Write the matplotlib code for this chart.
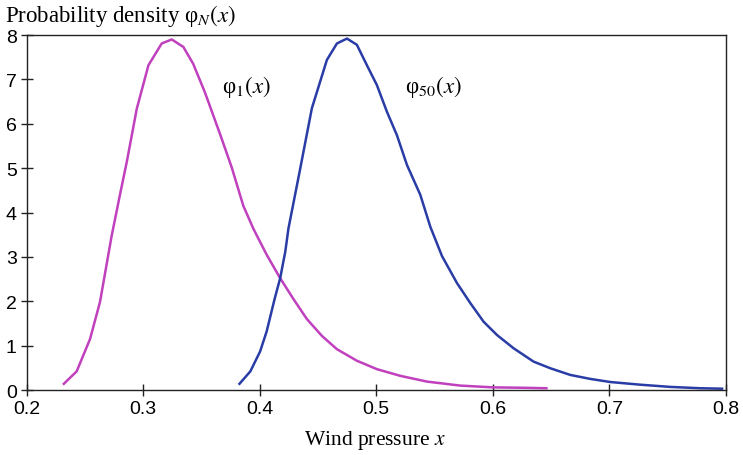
import matplotlib
matplotlib.use("Agg")
import matplotlib.pyplot as plt

plt.rcParams['mathtext.fontset'] = 'stix'

# phi_1(x) - magenta curve
x1 = [0.232, 0.243, 0.2545, 0.263, 0.273, 0.280, 0.286, 0.2946, 0.3046, 0.316,
      0.3246, 0.3346, 0.343, 0.353, 0.366, 0.376, 0.386, 0.3947, 0.406, 0.4176,
      0.429, 0.4405, 0.4534, 0.4663, 0.4834, 0.5006, 0.5206, 0.5435, 0.572,
      0.600, 0.627, 0.646]
y1 = [0.14, 0.42, 1.15, 1.98, 3.47, 4.38, 5.14, 6.34, 7.32, 7.81,
      7.90, 7.73, 7.35, 6.71, 5.77, 5.02, 4.15, 3.63, 3.05, 2.52,
      2.05, 1.60, 1.22, 0.92, 0.66, 0.47, 0.32, 0.19, 0.10,
      0.06, 0.05, 0.04]

# phi_50(x) - blue curve
x50 = [0.3827, 0.392, 0.4004, 0.406, 0.413, 0.4176, 0.422, 0.4247, 0.4348, 0.4448,
       0.4577, 0.4663, 0.4749, 0.4834, 0.492, 0.5006, 0.5092, 0.5178, 0.5264, 0.5378,
       0.5464, 0.5564, 0.5693, 0.5807, 0.5921, 0.6036, 0.6179, 0.635, 0.6494, 0.6665,
       0.6837, 0.7009, 0.7266, 0.7524, 0.778, 0.7967]
y50 = [0.14, 0.42, 0.87, 1.32, 2.07, 2.52, 3.12, 3.64, 4.99, 6.35,
       7.44, 7.81, 7.92, 7.78, 7.32, 6.87, 6.27, 5.74, 5.07, 4.40,
       3.68, 3.02, 2.41, 1.96, 1.54, 1.24, 0.94, 0.64, 0.49, 0.34,
       0.25, 0.18, 0.12, 0.07, 0.04, 0.03]

xticks = [0.2, 0.3, 0.4, 0.5, 0.6, 0.7, 0.8]
yticks = [0, 1, 2, 3, 4, 5, 6, 7, 8]

fig = plt.figure(figsize=(7.43, 4.56), dpi=100)
ax = fig.add_axes([0.0357, 0.1425, 0.9413, 0.7785])

ax.plot(x1, y1, color='#C040BE', lw=1.8)
ax.plot(x50, y50, color='#2A3CA6', lw=1.8)

ax.set_xlim(0.2, 0.8)
ax.set_ylim(0, 8)
ax.set_xticks(xticks)
ax.set_xticklabels([f"{t:.1f}" for t in xticks])
ax.set_yticks(yticks)
ax.tick_params(direction='inout', length=8, width=1, colors='#222222',
               labelsize=14, labelcolor='black')
ax.tick_params(axis='x', pad=3)
ax.tick_params(axis='y', pad=3)
for lab in ax.get_xticklabels() + ax.get_yticklabels():
    lab.set_family('Liberation Sans')
for s in ax.spines.values():
    s.set_color('#222222')
    s.set_linewidth(1.0)

serif = ['Liberation Serif', 'DejaVu Serif']
fig.text(0.007, 0.965, r'Probability density φ$_N$$(x)$', family=serif,
         fontsize=16.5, ha='left', va='center')
fig.text(0.505, 0.035, r'Wind pressure $x$', family=serif,
         fontsize=15.5, ha='center', va='center')
ax.text(0.368, 6.85, r'φ$_1$$(x)$', family=serif, fontsize=16.5,
        ha='left', va='center')
ax.text(0.525, 6.85, r'φ$_{50}$$(x)$', family=serif, fontsize=16.5,
        ha='left', va='center')

fig.savefig('out.png', dpi=100)
